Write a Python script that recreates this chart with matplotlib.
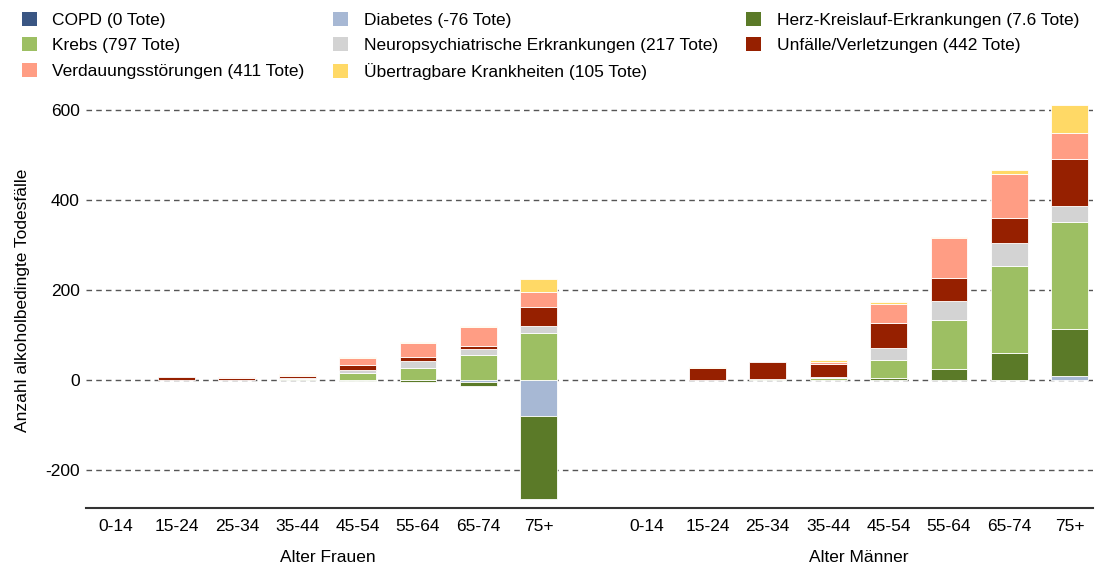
import numpy as np
import matplotlib
matplotlib.use("Agg")
import matplotlib.pyplot as plt
import matplotlib.transforms as mtransforms
from matplotlib.patches import Patch

plt.rcParams['font.family'] = ['Liberation Sans', 'DejaVu Sans']
plt.rcParams['font.size'] = 12.5
plt.rcParams['axes.unicode_minus'] = False

# age groups
ages = ["0-14", "15-24", "25-34", "35-44", "45-54", "55-64", "65-74", "75+"]

# values (women / men)
copd_f = [0, 0, 0, 0, 0, 0, 0, 0]
copd_m = [0, 0, 0, 0, 0, 0, 0, 0]
diab_f = [0, 0, 0, 0, 0, 0, -5, -80]
diab_m = [0, 0, 0, 0, 0, 0, 1, 10]
herz_f = [0, 0, 0, 0, -1.5, -4, -7, -185]
herz_m = [0, 0, 0, 0, 6, 25, 60, 104]
krebs_f = [0, 0, 0, 3, 15.5, 27, 57, 104]
krebs_m = [0, 0, 2, 4, 40, 108, 193, 238]
neuro_f = [0, 0, 0, 1, 8, 16, 12.5, 16]
neuro_m = [0, 0, 0, 3.5, 26, 44, 50, 35]
unf_f = [0, 7, 4, 6, 10, 9, 7.5, 42]
unf_m = [0, 26.5, 38.5, 28, 56, 51, 56, 105]
verd_f = [0, 0, 4, 2, 15, 30, 41, 33]
verd_m = [0, 0, 0, 6, 41, 87, 98, 58]
uebt_f = [0, 0, 0, 1.5, 3, 3.5, 3.5, 30]
uebt_m = [0, 3.5, 0, 3.5, 4, 3.5, 10, 62]

labels = ["COPD (0 Tote)", "Diabetes (-76 Tote)", "Herz-Kreislauf-Erkrankungen (7.6 Tote)",
          "Krebs (797 Tote)", "Neuropsychiatrische Erkrankungen (217 Tote)",
          "Unfälle/Verletzungen (442 Tote)", "Verdauungsstörungen (411 Tote)",
          "Übertragbare Krankheiten (105 Tote)"]
colors = ["#3a5683", "#a7b8d4", "#5b7a28", "#9dbf63", "#d3d3d3", "#962000", "#ff9d84", "#ffd966"]

women = [copd_f, diab_f, herz_f, krebs_f, neuro_f, unf_f, verd_f, uebt_f]
men = [copd_m, diab_m, herz_m, krebs_m, neuro_m, unf_m, verd_m, uebt_m]

x_f = np.arange(8)
x_m = np.arange(8) + 8.79
x = np.concatenate([x_f, x_m])

fig = plt.figure(figsize=(10.96, 5.68), dpi=100)
ax = fig.add_axes([85.8 / 1096, 0.1056, 1007 / 1096, 0.732])

pos_base = np.zeros(16)
neg_base = np.zeros(16)
for i in range(8):
    vals = np.array(women[i] + men[i], dtype=float)
    bottoms = np.where(vals >= 0, pos_base, neg_base)
    nz = vals != 0
    ax.bar(x[nz], vals[nz], width=0.61, bottom=bottoms[nz], color=colors[i],
           edgecolor="white", linewidth=0.6, zorder=3)
    pos_base += np.where(vals > 0, vals, 0)
    neg_base += np.where(vals < 0, vals, 0)

ax.set_xlim(-0.5, 16.17)
ax.set_ylim(-284, 640)
ax.set_yticks([-200, 0, 200, 400, 600])
ax.yaxis.grid(True, linestyle=(0, (4, 3)), color="#555555", linewidth=1, zorder=0)
ax.set_axisbelow(True)
ax.set_xticks(x)
ax.set_xticklabels(ages + ages)
ax.tick_params(axis="x", length=0, pad=8)
ax.tick_params(axis="y", length=0, pad=4.5)
for s in ["top", "right", "left"]:
    ax.spines[s].set_visible(False)
ax.spines["bottom"].set_color("#333333")
ax.spines["bottom"].set_linewidth(1.5)
ax.set_ylabel("Anzahl alkoholbedingte Todesfälle")
ax.yaxis.set_label_coords(-0.055, 0.5)

trans = mtransforms.blended_transform_factory(ax.transData, ax.transAxes)
ax.text(3.5, -0.118, "Alter Frauen", transform=trans, ha="center", va="center")
ax.text(12.29, -0.118, "Alter Männer", transform=trans, ha="center", va="center")

# legend rows: reorder because legend fills columns first
order = [0, 3, 6, 1, 4, 7, 2, 5]
handles = [Patch(facecolor=colors[i], edgecolor="none") for i in order]
fig.legend(handles, [labels[i] for i in order],
           loc="upper left", bbox_to_anchor=(0.009, 1.0), ncol=3, frameon=False,
           handlelength=0.85, handleheight=0.85, handletextpad=0.9,
           columnspacing=1.65, labelspacing=0.54, borderaxespad=0.3)

fig.savefig("out.png", dpi=100)
